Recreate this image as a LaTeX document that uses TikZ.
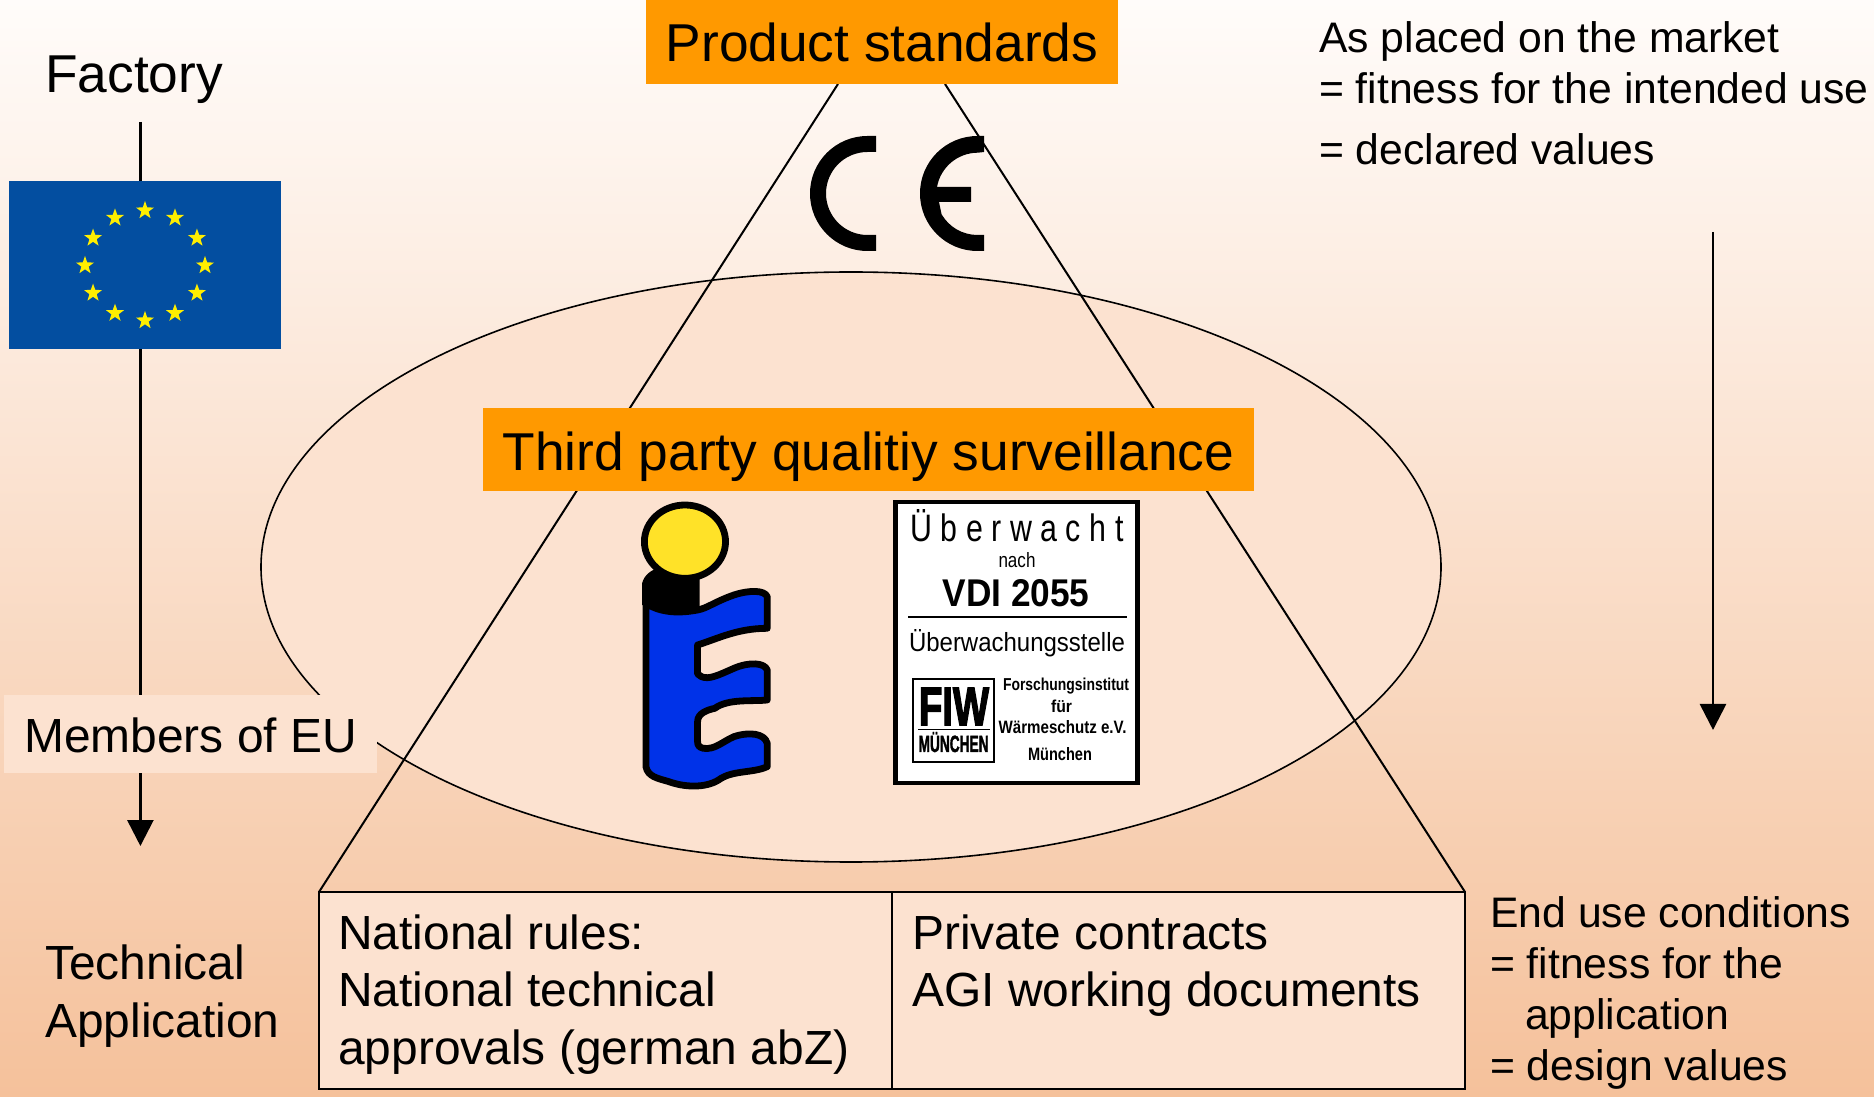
\documentclass[tikz,border=0pt]{standalone}
\usepackage{fontspec}
\usepackage{graphicx}
\setmainfont{Liberation Sans}
\usetikzlibrary{arrows.meta,shapes.geometric}
\definecolor{orangebox}{HTML}{FF9900}
\definecolor{lightfill}{HTML}{FCE2D0}
\definecolor{bgtop}{HTML}{FFFCFA}
\definecolor{bgbot}{HTML}{F5C19B}
\definecolor{flagblue}{HTML}{034EA0}
\definecolor{staryellow}{HTML}{FFEE00}
\definecolor{logoblue}{HTML}{0032E8}
\definecolor{logoyellow}{HTML}{FFE228}
\newcommand{\fsA}{\fontsize{53.3}{60}\selectfont}
\newcommand{\fsB}{\fontsize{47.9}{57.5}\selectfont}
\newcommand{\fsC}{\fontsize{42.7}{50.5}\selectfont}
\newcommand{\fsD}{\fontsize{42.7}{51.2}\selectfont}
\newcommand{\fitbox}[3]{\resizebox{#1pt}{#2pt}{#3}}
\tikzset{
  orangenode/.style={fill=orangebox,inner sep=0pt,outer sep=0pt,font=\fsA},
  plainlabel/.style={inner sep=0pt,anchor=north west,align=left},
  guide/.style={draw=black,line width=2pt},
  arrowline/.style={draw=black,line width=2.7pt,-{Triangle[length=26pt,width=26pt]}},
  cell/.style={draw=black,line width=2pt,fill=lightfill,inner sep=0pt,outer sep=0pt,anchor=north west},
  eustar/.style={star,star points=5,star point ratio=2.5,fill=staryellow,inner sep=0pt,minimum size=19pt},
  stamptxt/.style={inner sep=0pt,anchor=base},
  logoline/.style={draw=black,line width=6.8pt,line join=round}
}
\begin{document}
\begin{tikzpicture}[x=1pt,y=1pt]
\useasboundingbox (0,0) rectangle (1874,1096);
\shade[top color=bgtop,bottom color=bgbot] (0,0) rectangle (1874,1096);
\begin{scope}[yshift=1096pt,yscale=-1]
% ellipse
\node[ellipse,draw=black,line width=1.6pt,fill=lightfill,outer sep=0pt,minimum width=1180pt,minimum height=590pt,inner sep=0pt] (oval) at (851,567) {};
% guide lines
\coordinate (ftop) at (140.4,122);
\coordinate (ftip) at (140.4,846);
\draw[arrowline] (ftop) -- (ftip);
\coordinate (rtop) at (1713,232);
\coordinate (rtip) at (1713,730);
\draw[arrowline] (rtop) -- (rtip);
% triangle
\coordinate (tl) at (838,84);
\coordinate (tr) at (945,84);
\coordinate (bl) at (319,892);
\coordinate (br) at (1465,892);
\draw[guide] (tl) -- (bl);
\draw[guide] (tr) -- (br);
% CE
\fill[black] (876,136) -- (867.5,136) arc (270:90:57.5) -- (876,251) -- (876,235) -- (867.5,235) arc (90:270:41.5) -- (876,152) -- cycle;
\fill[black] (984,136) -- (977.5,136) arc (270:90:57.5) -- (984,251) -- (984,235) -- (977.5,235) arc (90:150:41.5) -- (939,202) -- (971,202) -- (971,187) -- (937,187) arc (190:270:41.5) -- (984,152) -- cycle;
% boxes
\node[orangenode,minimum width=472pt,minimum height=84pt,text height=50pt,text depth=10pt] (prod) at (882,42) {Product standards};
\node[orangenode,minimum width=771pt,minimum height=83pt,text height=53pt,text depth=10pt] (third) at (868.5,449.5) {Third party qualitiy surveillance};
\node[fill=lightfill,inner sep=0pt,outer sep=0pt,font=\fsB,minimum width=373pt,minimum height=78pt,text height=48pt,text depth=10pt] (members) at (190.5,734) {Members of EU};
% flag
\node[fill=flagblue,inner sep=0pt,outer sep=0pt,anchor=north west,minimum width=272pt,minimum height=168.5pt] (flag) at (9,181) {};
\foreach \i in {0,...,11}{
  \node[eustar] (s\i) at ({145+60*cos(30*\i)},{265.5+55*sin(30*\i)}) {};
}
% bottom cells
\node[cell,minimum width=574pt,minimum height=197pt] (cella) at (318.5,892) {};
\node[cell,minimum width=573pt,minimum height=197pt] (cellb) at (892,892) {};
% labels
\node[inner sep=0pt,anchor=base west,font=\fsA] (fact) at (45,93) {Factory};
\node[plainlabel,font=\fsB] (tech) at (45,945) {Technical\\Application};
\node[plainlabel,font=\fsB] (natl) at (338,914.5) {National rules:\\National technical\\approvals (german abZ)};
\node[plainlabel,font=\fsB] (priv) at (912,914.5) {Private contracts\\AGI working documents};
\node[plainlabel,font=\fsC] (placed) at (1319,21.5) {As placed on the market\\= fitness for the intended use\\[10.5pt]= declared values};
\node[plainlabel,font=\fsD] (enduse) at (1490,896) {End use conditions\\= fitness for the\\\hspace*{35pt}application\\= design values};
% i logo
\begin{scope}[shift={(600,480)},xscale=0.3827,yscale=0.3333]
\filldraw[fill=logoblue,logoline]
 (120,370) -- (120,860) .. controls (125,890) and (150,895) .. (180,905)
 .. controls (220,922) and (275,925) .. (310,900)
 .. controls (345,870) and (400,880) .. (437,860)
 -- (437,790) .. controls (430,760) and (390,755) .. (350,770)
 .. controls (320,785) and (300,810) .. (270,805)
 .. controls (258,802) and (255,795) .. (255,785)
 -- (255,725) .. controls (255,700) and (280,690) .. (300,685)
 .. controls (335,655) and (400,665) .. (437,660)
 -- (437,570) .. controls (430,548) and (390,545) .. (350,565)
 .. controls (310,585) and (285,600) .. (265,590)
 -- (255,582) -- (255,495)
 .. controls (310,475) and (360,445) .. (437,445)
 -- (437,350) .. controls (430,330) and (390,330) .. (350,345)
 .. controls (300,365) and (280,385) .. (255,390)
 .. controls (210,400) and (160,400) .. (120,370) -- cycle;
\fill[black] (110,375) -- (110,310) .. controls (115,285) and (135,270) .. (150,265) -- (260,290) -- (260,385) .. controls (210,405) and (160,405) .. (125,378) -- cycle;
\filldraw[fill=logoyellow,logoline] (222,185) ellipse (106 and 110);
\end{scope}
% stamp
\node[draw=black,fill=white,line width=4.5pt,inner sep=0pt,outer sep=0pt,minimum width=242pt,minimum height=281pt] (stamp) at (1016.5,642.5) {};
\node[stamptxt] (st1) at (1017,541.5) {\fitbox{213}{32}{\addfontfeature{LetterSpace=28}Überwacht}};
\node[stamptxt] (st2) at (1017,568) {\fitbox{37}{15}{nach}};
\node[stamptxt] (st3) at (1016,606.5) {\fitbox{147}{27}{\bfseries VDI 2055}};
\coordinate (sl) at (908,617);
\coordinate (sr) at (1127,617);
\draw[black,line width=2pt] (sl) -- (sr);
\node[stamptxt] (st4) at (1017,652) {\fitbox{216}{22}{Überwachungsstelle}};
\node[draw=black,fill=white,line width=2pt,inner sep=0pt,outer sep=0pt,minimum width=81pt,minimum height=83pt,anchor=north west] (fiwbox) at (913,679.5) {};
\node[stamptxt] (fiw) at (954,725) {\fitbox{70}{37}{\bfseries\addfontfeature{FakeBold=3}FIW}};
\coordinate (fl) at (918,729.5);
\coordinate (fr) at (990,729.5);
\draw[black,line width=1pt] (fl) -- (fr);
\node[stamptxt] (mun) at (953.6,752) {\fitbox{70}{20}{\bfseries\addfontfeature{FakeBold=2}MÜNCHEN}};
\node[stamptxt] (fo1) at (1066,691) {\fitbox{126}{12.5}{\bfseries Forschungsinstitut}};
\node[stamptxt] (fo2) at (1061.5,713) {\fitbox{21}{12.5}{\bfseries für}};
\node[stamptxt] (fo3) at (1062.6,734) {\fitbox{128}{13}{\bfseries Wärmeschutz e.V.}};
\node[stamptxt] (fo4) at (1060,761) {\fitbox{64}{13}{\bfseries München}};
\end{scope}
\end{tikzpicture}
\end{document}
